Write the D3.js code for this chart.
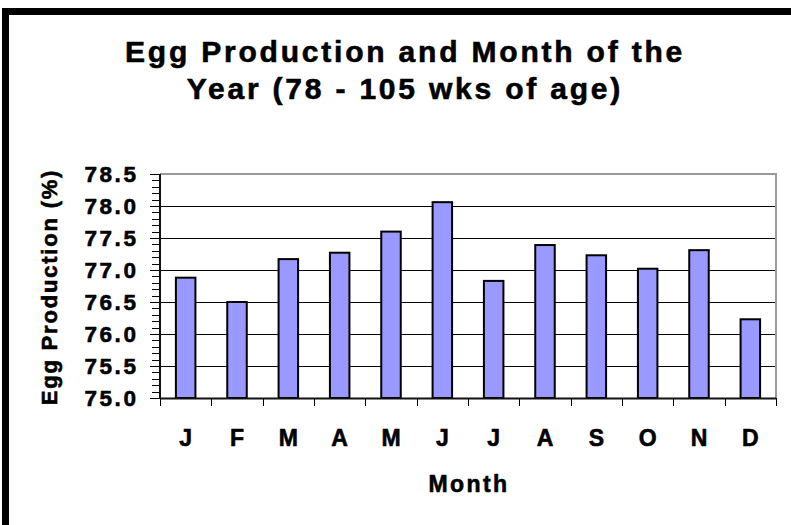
<!DOCTYPE html>
<html>
<head>
<meta charset="utf-8">
<script src="https://cdn.jsdelivr.net/npm/d3@7"></script>
<style>
  html, body { margin: 0; padding: 0; background: #fff; }
  svg { display: block; font-family: "Liberation Sans", Arial, sans-serif; font-weight: bold; }
  svg text { fill: #000; stroke: #000; stroke-width: 0.6px; }
</style>
</head>
<body>
<svg id="chart" width="791" height="525"></svg>
<script>
const months = ["J", "F", "M", "A", "M", "J", "J", "A", "S", "O", "N", "D"];
const production = [76.88, 76.50, 77.17, 77.27, 77.60, 78.06, 76.83, 77.39, 77.23, 77.02, 77.31, 76.23];
const yTicks = [75.0, 75.5, 76.0, 76.5, 77.0, 77.5, 78.0, 78.5];
const titleLines = ["Egg Production and Month of the", "Year (78 - 105 wks of age)"];

const width = 791;
const height = 525;
const plot = { left: 160, right: 776, top: 174, bottom: 398 };

const svg = d3.select("#chart");
const keys = months.map((m, i) => i);

const xBand = d3.scaleBand()
  .domain(keys)
  .range([plot.left, plot.right])
  .paddingInner(0.62)
  .paddingOuter(0.31);

const xCat = d3.scaleBand()
  .domain(keys)
  .range([plot.left, plot.right]);

const y = d3.scaleLinear()
  .domain([75, 78.5])
  .range([plot.bottom, plot.top]);

// outer frame (only top and left visible in crop)
svg.append("rect")
  .attr("x", 5.5)
  .attr("y", 11.5)
  .attr("width", width + 20)
  .attr("height", height + 20)
  .attr("fill", "none")
  .attr("stroke", "#000")
  .attr("stroke-width", 7);

// title
svg.append("g")
  .selectAll("text")
  .data(titleLines)
  .join("text")
  .attr("x", 405)
  .attr("y", (d, i) => 62 + i * 37)
  .attr("text-anchor", "middle")
  .attr("font-size", 30)
  .attr("letter-spacing", 2.8)
  .text(d => d);

// gridlines
svg.append("g")
  .selectAll("line")
  .data(yTicks.filter(d => d > 75 && d < 78.5))
  .join("line")
  .attr("x1", plot.left)
  .attr("x2", plot.right)
  .attr("y1", d => Math.round(y(d)) + 0.5)
  .attr("y2", d => Math.round(y(d)) + 0.5)
  .attr("stroke", "#000")
  .attr("stroke-width", 1);

// plot area border (top / right) in grey
svg.append("path")
  .attr("d", `M${plot.left},${plot.top} H${plot.right} V${plot.bottom}`)
  .attr("fill", "none")
  .attr("stroke", "#9a9a9a")
  .attr("stroke-width", 2);

// bars
svg.append("g")
  .selectAll("rect")
  .data(production)
  .join("rect")
  .attr("x", (d, i) => xBand(i))
  .attr("y", d => y(d))
  .attr("width", xBand.bandwidth())
  .attr("height", d => y(75) - y(d))
  .attr("fill", "#9999ff")
  .attr("stroke", "#000")
  .attr("stroke-width", 2);

// y axis with minor ticks
const minor = d3.range(0, 36).map(i => 75 + i * 0.1);
svg.append("g")
  .selectAll("line")
  .data(minor)
  .join("line")
  .attr("x1", (d, i) => i % 5 === 0 ? plot.left - 10 : plot.left - 8)
  .attr("x2", plot.left)
  .attr("y1", d => Math.round(y(d)) + 0.5)
  .attr("y2", d => Math.round(y(d)) + 0.5)
  .attr("stroke", "#000")
  .attr("stroke-width", 1);

svg.append("line")
  .attr("x1", plot.left)
  .attr("x2", plot.left)
  .attr("y1", plot.top)
  .attr("y2", plot.bottom + 1)
  .attr("stroke", "#111")
  .attr("stroke-width", 2);

svg.append("g")
  .selectAll("text")
  .data(yTicks)
  .join("text")
  .attr("x", 136 + 2.6)
  .attr("y", d => y(d) + 8)
  .attr("text-anchor", "end")
  .attr("font-size", 22.5)
  .attr("letter-spacing", 2.6)
  .text(d => d.toFixed(1));

// x axis
svg.append("line")
  .attr("x1", plot.left)
  .attr("x2", plot.right)
  .attr("y1", plot.bottom + 0.5)
  .attr("y2", plot.bottom + 0.5)
  .attr("stroke", "#111")
  .attr("stroke-width", 2);

svg.append("g")
  .selectAll("line")
  .data([...keys.map(i => xCat(i)), plot.right])
  .join("line")
  .attr("x1", d => Math.round(d) + 0.5)
  .attr("x2", d => Math.round(d) + 0.5)
  .attr("y1", plot.bottom)
  .attr("y2", plot.bottom + 8)
  .attr("stroke", "#000")
  .attr("stroke-width", 1);

svg.append("g")
  .selectAll("text")
  .data(months)
  .join("text")
  .attr("x", (d, i) => xCat(i) + xCat.bandwidth() / 2)
  .attr("y", 445.5)
  .attr("text-anchor", "middle")
  .attr("font-size", 23)
  .text(d => d);

// axis titles
svg.append("text")
  .attr("x", (plot.left + plot.right) / 2 + 1)
  .attr("y", 491.5)
  .attr("text-anchor", "middle")
  .attr("font-size", 23)
  .attr("letter-spacing", 2.4)
  .text("Month");

svg.append("text")
  .attr("transform", `translate(57,${287}) rotate(-90)`)
  .attr("text-anchor", "middle")
  .attr("font-size", 22)
  .attr("letter-spacing", 1.8)
  .text("Egg Production (%)");
</script>
</body>
</html>
